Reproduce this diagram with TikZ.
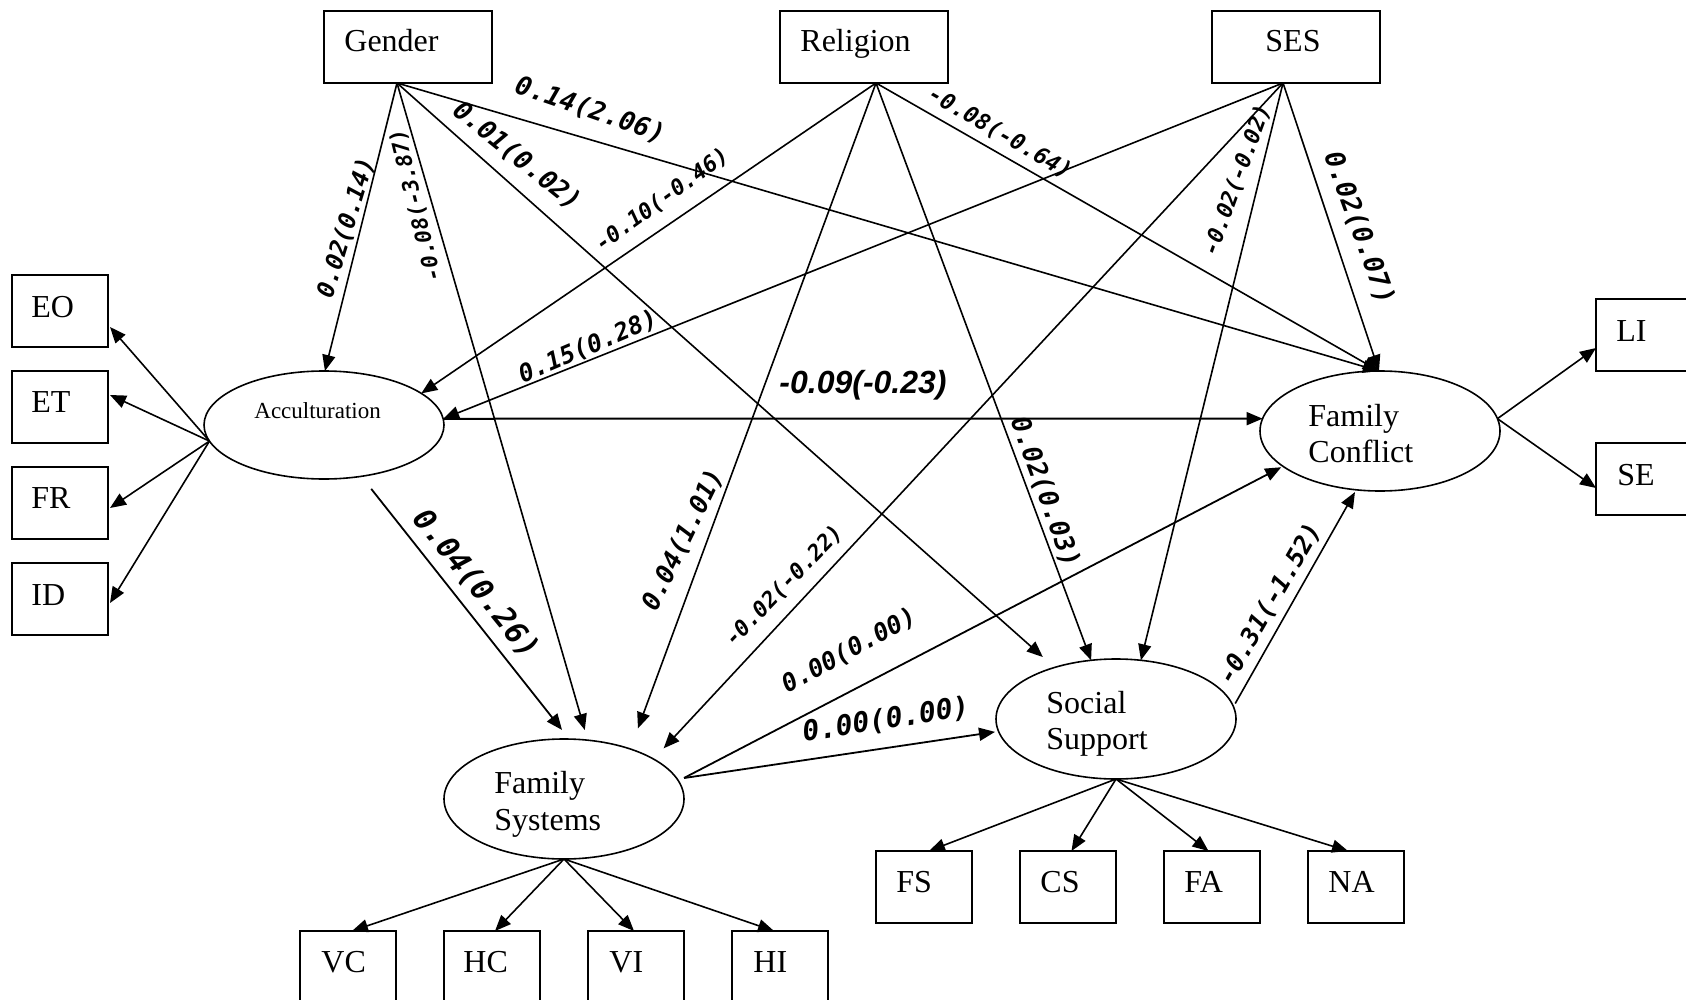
\documentclass[tikz,border=0pt]{standalone}
\usepackage{fontspec}
\setmainfont{Liberation Serif}
\newfontfamily\lblmono{DejaVu Sans Mono}[BoldFont={DejaVu Sans Mono Bold},ItalicFont={DejaVu Sans Mono Oblique},BoldItalicFont={DejaVu Sans Mono Bold Oblique}]
\newfontfamily\lblsans{Liberation Sans}
\usetikzlibrary{arrows.meta,shapes.geometric,calc}
\begin{document}
\begin{tikzpicture}[x=0.5pt,y=-0.5pt,
  box/.style={draw,line width=1pt,minimum width=48pt,minimum height=36pt,inner sep=0pt,outer sep=0pt},
  topbox/.style={box,minimum width=84pt},
  lat/.style={draw,ellipse,line width=0.8pt,minimum width=120pt,minimum height=60pt,inner sep=0pt,outer sep=0pt},
  nm/.style={font=\fontsize{16}{18}\selectfont,anchor=base west,inner sep=0pt},
  arr/.style={-{Triangle[length=8pt,width=6.5pt]},line width=0.8pt},
  lbl/.style={inner sep=0pt,font=\lblmono\bfseries\itshape},
]
\useasboundingbox (0,0) rectangle (1686,1000);

% exogenous boxes
\node[topbox] (gender) at (408,47) {};
\node[topbox] (religion) at (864,47) {};
\node[topbox] (ses) at (1296,47) {};
\node[nm] (gendert) at (344,52) {Gender};
\node[nm] (religiont) at (800,52) {Religion};
\node[nm] (sest) at (1265,52) {SES};

% latent variables
\node[lat,minimum height=54pt] (accu) at (324,425) {};
\node[lat] (fconf) at (1380,431) {};
\node[lat] (fsys) at (564,799) {};
\node[lat] (ssup) at (1116,719) {};
\node[nm,font=\fontsize{11.5}{13}\selectfont] (accut) at (254,418) {Acculturation};
\node[nm] (fconft1) at (1308,426) {Family};
\node[nm] (fconft2) at (1308,462) {Conflict};
\node[nm] (fsyst1) at (494,793) {Family};
\node[nm] (fsyst2) at (494,830) {Systems};
\node[nm] (ssupt1) at (1046,713) {Social};
\node[nm] (ssupt2) at (1046,749) {Support};

% indicator boxes
\node[box] (eo) at (60,311) {};
\node[box] (et) at (60,407) {};
\node[box] (fr) at (60,503) {};
\node[box] (id) at (60,599) {};
\node[nm] (eot) at (31,317) {EO};
\node[nm] (ett) at (31,412) {ET};
\node[nm] (frt) at (31,508) {FR};
\node[nm] (idt) at (31,605) {ID};

\node[box] (li) at (1644,335) {};
\node[box] (se) at (1644,479) {};
\node[nm] (lit) at (1616,342) {LI};
\node[nm] (set) at (1617,485) {SE};

\node[box] (vc) at (348,967) {};
\node[box] (hc) at (492,967) {};
\node[box] (vi) at (636,967) {};
\node[box] (hi) at (780,967) {};
\node[nm] (vct) at (321,972) {VC};
\node[nm] (hct) at (463,972) {HC};
\node[nm] (vit) at (609,972) {VI};
\node[nm] (hit) at (753,972) {HI};

\node[box] (bfs) at (924,887) {};
\node[box] (bcs) at (1068,887) {};
\node[box] (bfa) at (1212,887) {};
\node[box] (bna) at (1356,887) {};
\node[nm] (bfst) at (896,892) {FS};
\node[nm] (bcst) at (1040,892) {CS};
\node[nm] (bfat) at (1184,892) {FA};
\node[nm] (bnat) at (1328,892) {NA};

% source points
\coordinate (gout) at ($(gender.south)+(-11,0)$);
\coordinate (rout) at ($(religion.south)+(12,0)$);
\coordinate (sout) at ($(ses.south)+(-13,0)$);

% structural paths from Gender
\draw[arr] (gout) -- (accu.89);
\draw[arr,shorten >=5.3pt] (gout) -- (fsys.68);
\draw[arr,shorten >=7.85pt] (gout) -- (ssup.140);
\draw[arr] (gout) -- (fconf.91);
% from Religion
\draw[arr] (rout) -- (accu.18);
\draw[arr,shorten >=11pt] (rout) -- (fsys.37.6);
\draw[arr] (rout) -- (ssup.113);
\draw[arr] (rout) -- (fconf.91);
% from SES
\draw[arr] (sout) -- (accu.3);
\draw[arr,shorten >=7.35pt] (sout) -- (fsys.24.3);
\draw[arr] (sout) -- (ssup.67);
\draw[arr] (sout) -- (fconf.91);
% among latents
\draw[arr,line width=1pt] (accu.3) -- (fconf.174);
\draw[arr,line width=0.9pt,shorten <=8pt,shorten >=5.8pt] (accu.-54) -- (fsys.85);
\draw[arr,line width=0.9pt,shorten <=3.2pt,shorten >=1pt] (fsys.9) -- (fconf.200.6);
\draw[arr,line width=0.9pt,shorten <=3.5pt,shorten >=1.8pt] (fsys.10) -- (ssup.186);
\draw[arr,shorten <=1.8pt,shorten >=1.3pt] (ssup.6) -- (fconf.248);

% measurement arrows
\draw[arr] (accu.188) -- ($(eo.east)+(2,16)$);
\draw[arr] (accu.188) -- ($(et.east)+(2,-12)$);
\draw[arr] (accu.188) -- ($(fr.east)+(2,5)$);
\draw[arr] (accu.188) -- ($(id.east)+(2,4)$);
\draw[arr] (fconf.6) -- ($(li.west)+(0,13)$);
\draw[arr] (fconf.6) -- ($(se.west)+(0,9)$);
\draw[arr] (fsys.south) -- ($(vc.north)+(4,0)$);
\draw[arr] (fsys.south) -- ($(hc.north)+(3,0)$);
\draw[arr] (fsys.south) -- ($(vi.north)+(-2,0)$);
\draw[arr] (fsys.south) -- ($(hi.north)+(-6,0)$);
\draw[arr] (ssup.south) -- ($(bfs.north)+(5,0)$);
\draw[arr] (ssup.south) -- ($(bcs.north)+(3.5,0)$);
\draw[arr] (ssup.south) -- ($(bfa.north)+(-3.5,0)$);
\draw[arr] (ssup.south) -- ($(bna.north)+(-8,0)$);

% path coefficients
\node[lbl,font=\lblmono\bfseries\itshape\fontsize{13}{15}\selectfont,rotate=-19] (l1) at (590,110) {0.14(2.06)};
\node[lbl,font=\lblmono\bfseries\itshape\fontsize{13}{15}\selectfont,rotate=-39] (l2) at (517,156) {0.01(0.02)};
\node[lbl,font=\lblmono\bfseries\itshape\fontsize{12}{14}\selectfont,rotate=73] (l3) at (346,228) {0.02(0.14)};
\node[lbl,font=\lblmono\bfseries\itshape\fontsize{10.8}{12}\selectfont,rotate=104] (l4) at (416,205) {-0.08(-3.87)};
\node[lbl,font=\lblmono\bfseries\itshape\fontsize{11}{12}\selectfont,rotate=36] (l5) at (662,200) {-0.10(-0.46)};
\node[lbl,font=\lblmono\bfseries\itshape\fontsize{11.2}{13}\selectfont,rotate=-30] (l6) at (1000,133) {-0.08(-0.64)};
\node[lbl,font=\lblmono\bfseries\itshape\fontsize{11}{12}\selectfont,rotate=70] (l7) at (1237,180) {-0.02(-0.02)};
\node[lbl,font=\lblmono\bfseries\itshape\fontsize{13.3}{15}\selectfont,rotate=-70] (l8) at (1359,228) {0.02(0.07)};
\node[lbl,font=\lblmono\bfseries\itshape\fontsize{12.3}{14}\selectfont,rotate=23] (l9) at (588,347) {0.15(0.28)};
\node[lbl,font=\lblsans\bfseries\itshape\fontsize{16}{18}\selectfont] (l10) at (863,385) {-0.09(-0.23)};
\node[lbl,font=\lblmono\bfseries\itshape\fontsize{12.8}{14}\selectfont,rotate=64] (l11) at (683,540) {0.04(1.01)};
\node[lbl,font=\lblmono\bfseries\itshape\fontsize{11}{12}\selectfont,rotate=46] (l12) at (784,586) {-0.02(-0.22)};
\node[lbl,font=\lblmono\bfseries\itshape\fontsize{12.4}{14}\selectfont,rotate=29] (l13) at (849,651) {0.00(0.00)};
\node[lbl,font=\lblmono\bfseries\itshape\fontsize{14}{16}\selectfont,rotate=9] (l14) at (886,720) {0.00(0.00)};
\node[lbl,font=\lblmono\bfseries\itshape\fontsize{13.1}{15}\selectfont,rotate=-70] (l15) at (1045,492) {0.02(0.03)};
\node[lbl,font=\lblmono\bfseries\itshape\fontsize{12.5}{14}\selectfont,rotate=60] (l16) at (1270,604) {-0.31(-1.52)};
\node[lbl,font=\lblmono\bfseries\itshape\fontsize{15}{17}\selectfont,rotate=-51] (l17) at (476,584) {0.04(0.26)};
\end{tikzpicture}
\end{document}
